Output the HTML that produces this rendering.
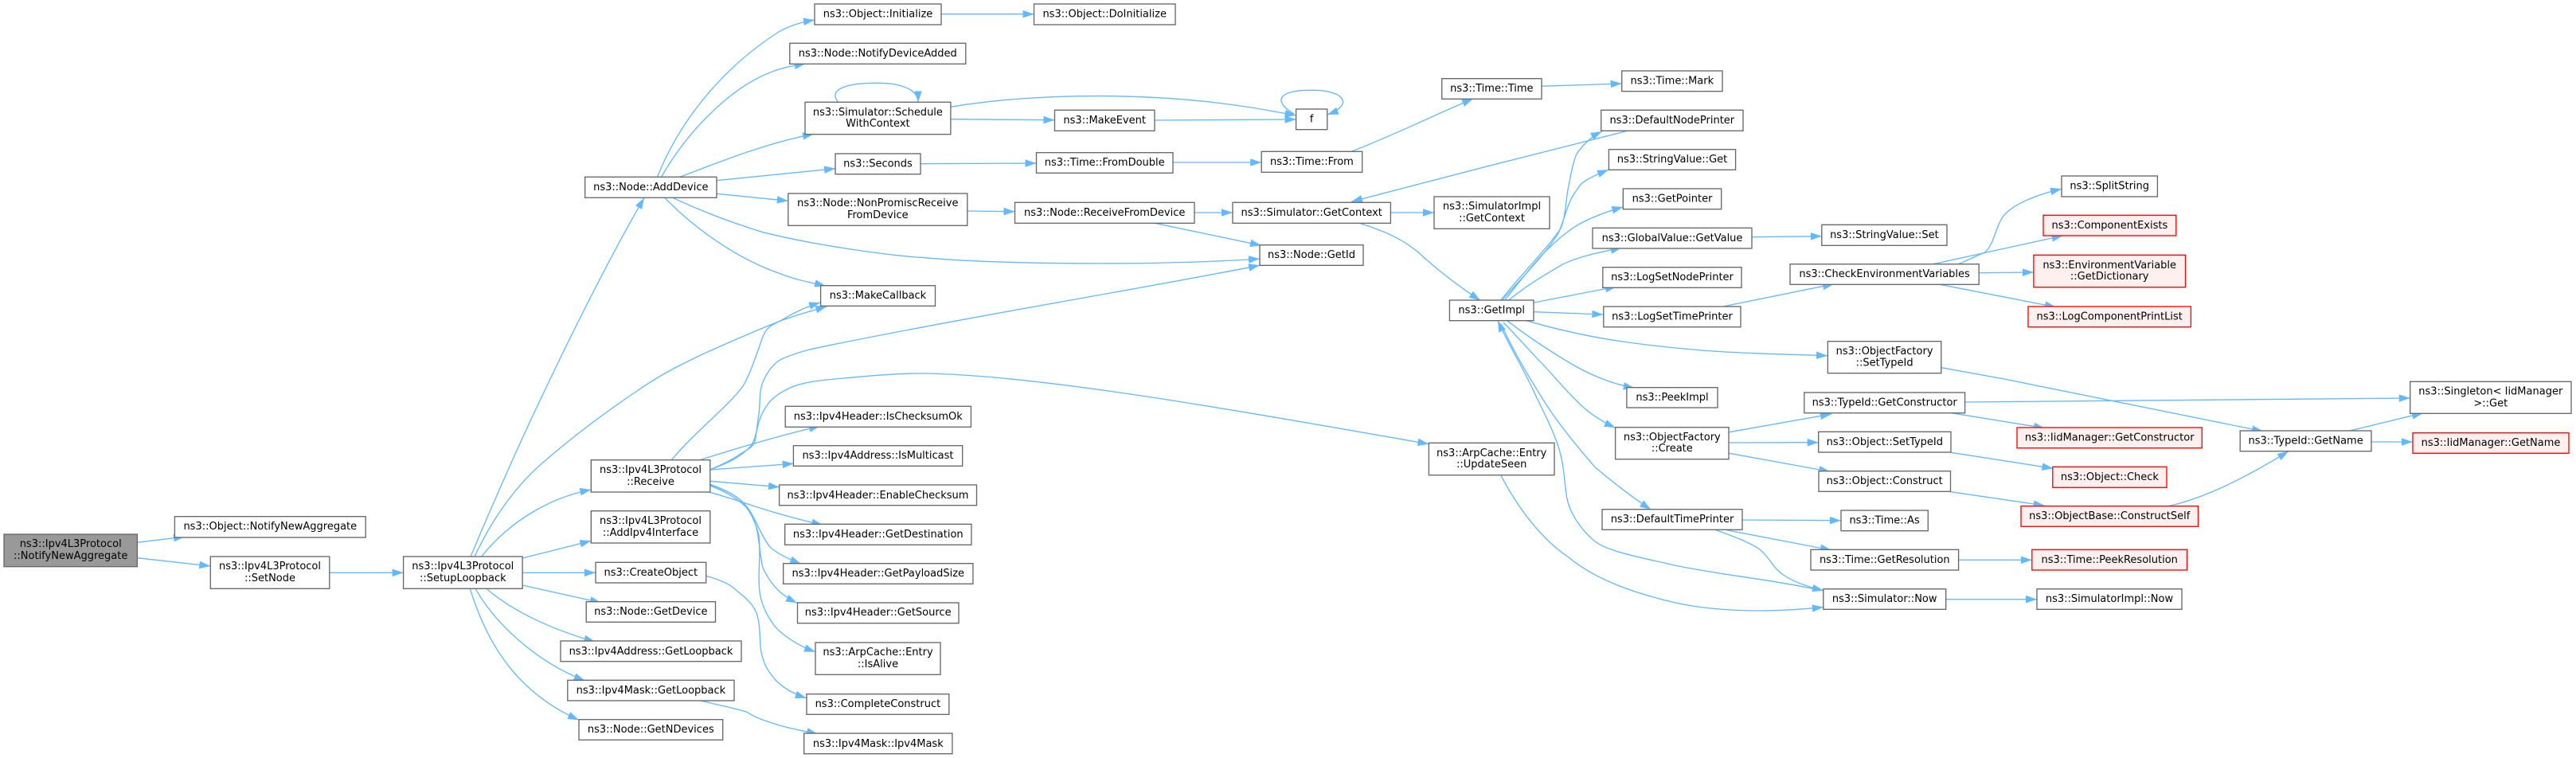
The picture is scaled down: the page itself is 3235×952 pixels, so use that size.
<!DOCTYPE html>
<html><head><meta charset="utf-8"><style>
html,body{margin:0;padding:0;background:#fff}
svg{display:block}
rect{fill:#fff;stroke:#666;stroke-width:1.33}
rect.s{fill:#999}
rect.r{fill:#fff0f0;stroke:#f00}
text{font-family:"DejaVu Sans","Liberation Sans",sans-serif;font-size:13px;text-anchor:middle;fill:#000}
path{fill:none;stroke:#63b8ff;stroke-width:1.33;marker-end:url(#a)}
</style></head><body>
<svg xmlns="http://www.w3.org/2000/svg" width="3235" height="952" viewBox="0 0 3235 952">
<defs><marker id="a" markerUnits="userSpaceOnUse" markerWidth="16" markerHeight="12" refX="14" refY="5" orient="auto"><polygon points="0,0.2 14,5 0,9.8" fill="#63b8ff"/></marker></defs>
<rect width="3235" height="952" style="fill:#fff;stroke:none"/>
<!-- edges -->
<path d="M172.4,681.3L232,674"/>
<path d="M172.4,700.7L264.3,711"/>
<path d="M413.8,719.3L506.6,719.3"/>
<path d="M591,699C620,630 655,550 691,476C720,415 770,315 809,248.5"/>
<path d="M596,699C620,648 650,608 684,579C720,548 760,518 800,491C830,470 855,458 880,446C915,430 950,415 980,403C1000,396 1020,390 1038.3,385"/>
<path d="M604.6,699C640,655 690,625 742.3,615"/>
<path d="M656.1,701L742.3,679.3"/>
<path d="M656.1,719.3L748,719.3"/>
<path d="M656,735L755,757"/>
<path d="M611,739.3C640,765 690,790 747.4,806"/>
<path d="M597,739.3C620,780 670,830 734.7,855"/>
<path d="M590.3,739.3C612,810 650,870 727,904.3"/>
<path d="M825.5,222.3C850,160 900,90 978,40C990,33 1005,28 1023,25"/>
<path d="M830.6,222.3C860,170 915,110 970,90C985,84 1000,82 1011.7,80"/>
<path d="M853.6,222.3C900,205 960,180 1022,168.3"/>
<path d="M900,226.7L1049,211.7"/>
<path d="M900,243.3L989.8,252.3"/>
<path d="M844.9,248.3C880,265 920,280 958,291.7C1040,312 1140,323 1157,323.3C1250,332 1450,334 1582,325"/>
<path d="M834.7,248.3C870,285 925,325 978.6,343.3C1000,352 1020,355 1037,359.3"/>
<path d="M1052.6,128.3C1038,110 1070,104 1101,104.3C1130,104 1153,112 1153,128.3"/>
<path d="M1193.9,134.3C1290,118 1450,112 1600,140L1627.6,145"/>
<path d="M1193.9,149.7L1324.5,150.7"/>
<path d="M1450,151L1627.6,150"/>
<path d="M1625,143C1595,125 1610,113 1646,113.3C1690,113 1700,132 1666.8,144"/>
<path d="M1182,17.7L1298.5,17.7"/>
<path d="M1156,205.7L1301.5,205"/>
<path d="M1473,204L1584.2,204"/>
<path d="M1697,190.3C1750,170 1800,145 1850,124"/>
<path d="M1936,108.3L2036.7,105"/>
<path d="M1214.8,265L1274.5,265.7"/>
<path d="M1500,267L1548,267"/>
<path d="M1450.5,280.3L1584,308.3"/>
<path d="M2045,164L1870,208.3L1697,253.3"/>
<path d="M1746.4,267L1801,267"/>
<path d="M1707,280.3C1745,292 1770,305 1790,325C1815,347 1840,365 1859,377.3"/>
<path d="M1885,376.7C1910,345 1945,310 1960,286.7C1967,270 1966,250 1970,233.3C1973,218 1975,205 1980,193.3C1987,183 1998,172 2011.7,165"/>
<path d="M1886.7,376.7C1910,350 1940,320 1956.7,293.3C1963,280 1967,262 1973,250C1977,243 1982,235 1986.7,230C1995,224 2008,218 2020,213.3"/>
<path d="M1890,376.7C1905,358 1920,338 1936.7,320C1950,306 1965,293 1980,283.3C2000,272 2020,265 2038.3,260"/>
<path d="M1895,376.7C1918,358 1940,345 1963,331.7C1988,320 2015,316 2036.7,311"/>
<path d="M1926.7,380L2030,360"/>
<path d="M1926.7,391.7L2013.3,395"/>
<path d="M1916.7,402.7C1945,411 1975,418 2003,423.3C2045,431 2090,436 2136.7,440C2190,444 2240,445 2295,446.7"/>
<path d="M1892.7,402.7C1915,420 1945,440 1970,455C1983,463 2000,471 2010,475C2025,481 2040,485 2052.7,487.3"/>
<path d="M1888,405C1905,422 1920,440 1936.7,456.7C1953,474 1970,495 1986.7,510C2000,522 2015,531 2028.7,537.3"/>
<path d="M1885,406.7C1900,440 1918,470 1936.7,500C1955,530 1980,560 2003,586.7C2025,605 2050,625 2073.3,640"/>
<path d="M2289.8,742C2220,727 2160,722 2103,710C2060,700 2020,693 2003,680C1985,665 1972,645 1968,626.7C1964,605 1965,585 1956.7,560C1950,540 1940,520 1930,500C1915,465 1895,435 1881,402.7"/>
<path d="M2155,665.7C2175,673 2195,680 2210,690C2222,700 2226,712 2236.7,720C2250,730 2270,737 2290,741.7"/>
<path d="M2188,653L2312,653.7"/>
<path d="M2168.3,665.7L2300,691"/>
<path d="M2459.6,703.3L2551.8,703.3"/>
<path d="M2443.7,752.7L2558,752.7"/>
<path d="M1885,597.3C1910,645 1940,680 1970,700C2000,725 2040,740 2076.7,750C2110,760 2150,767 2212,767C2240,767 2265,765 2289.8,762.7"/>
<path d="M891.7,590C912,582 930,575 943,560C948,553 950,542 953,530C956,520 960,512 968,503C975,496 985,490 997,485C1015,479 1035,477 1060,475C1090,472 1125,469 1157,469C1300,470 1550,515 1794.4,557.7"/>
<path d="M891.7,590C910,582 920,577 930,570C942,563 947,560 948.3,553C951,540 951,530 953,520C955,505 953,492 958,480C963,468 970,458 980,451.7C1005,440 1030,436 1060,430C1250,392 1420,365 1582,333.3"/>
<path d="M843,578C875,540 915,510 933,485C942,470 950,445 958,423C963,410 970,408 980,403C995,394 1010,386 1030,380"/>
<path d="M879,577.7C925,563 980,547 1030,535"/>
<path d="M891.7,590L996.7,582.3"/>
<path d="M891.7,604.3L979,611.7"/>
<path d="M891.7,618.3C905,622 920,627 930,630C965,642 1000,652 1033.3,659.3"/>
<path d="M891.7,608.3C905,613 920,620 930,628C940,637 945,647 950,656.7C955,668 960,678 966.7,686.7C975,695 990,702 1006,708.3"/>
<path d="M891.7,609C905,613 920,620 930,628C942,640 947,652 950,663C954,680 954,697 958,713C962,722 967,730 973,736.7C980,745 990,752 1001,757.3"/>
<path d="M891.7,610C910,617 925,625 936.7,636.7C945,647 950,660 953,673C956,695 951,720 954,743C956,760 965,776 973,786.7C985,800 1005,812 1024,818.7"/>
<path d="M886.7,723.3C900,727 915,732 923,740C935,750 945,757 950,770C957,790 952,810 958,826.7C961,838 967,846 973,853C983,864 998,872 1012.7,876.7"/>
<path d="M880,880C900,885 925,890 937.8,894.3C950,902 960,905 973.5,909.3C990,915 1010,918 1027,922"/>
<path d="M2200,297.7L2287.8,296.7"/>
<path d="M2163.8,385L2303,356.7"/>
<path d="M2459.6,331.7C2475,325 2485,320 2493,316.7C2505,305 2505,288 2514.5,273.3C2525,258 2555,245 2589,237.3"/>
<path d="M2427.7,331.7L2590.6,296"/>
<path d="M2485.2,342.7L2553.9,342"/>
<path d="M2436.2,357.3L2582,385.7"/>
<path d="M2437.8,461.7L2517,476L2842,541.7"/>
<path d="M2171.7,542.7L2300,520"/>
<path d="M2171,556L2283.7,555.7"/>
<path d="M2171.7,569.3L2298.3,592.3"/>
<path d="M2467.6,505L3026.7,500"/>
<path d="M2448,518.3L2568,537.7"/>
<path d="M2450,568.3L2578.4,588.3"/>
<path d="M2449.5,617.7L2567.7,635"/>
<path d="M2723.2,635.7C2770,625 2820,600 2874,566.7"/>
<path d="M2951,541L3043,518.7"/>
<path d="M2978,555L3030,555"/>
<!-- nodes -->
<rect class="s" x="5" y="671" width="167.4" height="40.7"/><text x="88.7" y="687">ns3::Ipv4L3Protocol</text><text x="88.7" y="702">::NotifyNewAggregate</text>
<rect x="219.4" y="648.7" width="239.8" height="26.3"/><text x="339.3" y="665">ns3::Object::NotifyNewAggregate</text>
<rect x="264.3" y="699" width="149.5" height="40.3"/><text x="339" y="715">ns3::Ipv4L3Protocol</text><text x="339" y="730">::SetNode</text>
<rect x="506.6" y="699" width="149.5" height="40.3"/><text x="581.3" y="715">ns3::Ipv4L3Protocol</text><text x="581.3" y="730">::SetupLoopback</text>
<rect x="734.7" y="222.3" width="165.3" height="26"/><text x="817.3" y="239">ns3::Node::AddDevice</text>
<rect x="742.3" y="577.7" width="149.5" height="40.3"/><text x="817" y="594">ns3::Ipv4L3Protocol</text><text x="817" y="609">::Receive</text>
<rect x="742.3" y="641.7" width="149.5" height="40.3"/><text x="817" y="658">ns3::Ipv4L3Protocol</text><text x="817" y="673">::AddIpv4Interface</text>
<rect x="748" y="706.3" width="138.7" height="25.7"/><text x="817.3" y="723">ns3::CreateObject</text>
<rect x="736.2" y="755.7" width="162.3" height="25.6"/><text x="817.3" y="772">ns3::Node::GetDevice</text>
<rect x="704" y="805" width="227" height="25.7"/><text x="817.5" y="822">ns3::Ipv4Address::GetLoopback</text>
<rect x="712.8" y="854.3" width="209.2" height="25.7"/><text x="817.4" y="871">ns3::Ipv4Mask::GetLoopback</text>
<rect x="727" y="903.7" width="180.7" height="25.6"/><text x="817.3" y="920">ns3::Node::GetNDevices</text>
<rect x="986.2" y="510.3" width="233.2" height="26"/><text x="1102.8" y="527">ns3::Ipv4Header::IsChecksumOk</text>
<rect x="996.4" y="559.7" width="212.3" height="25.6"/><text x="1102.5" y="576">ns3::Ipv4Address::IsMulticast</text>
<rect x="978.6" y="609" width="247.9" height="25.7"/><text x="1102.5" y="626">ns3::Ipv4Header::EnableChecksum</text>
<rect x="985.7" y="658.3" width="234.2" height="26"/><text x="1102.8" y="675">ns3::Ipv4Header::GetDestination</text>
<rect x="983.7" y="707.7" width="238.2" height="25.6"/><text x="1102.8" y="724">ns3::Ipv4Header::GetPayloadSize</text>
<rect x="1001.5" y="757" width="202.5" height="25.7"/><text x="1102.7" y="773">ns3::Ipv4Header::GetSource</text>
<rect x="1024" y="807" width="157" height="40.3"/><text x="1102.5" y="823">ns3::ArpCache::Entry</text><text x="1102.5" y="838">::IsAlive</text>
<rect x="1013" y="871.7" width="178.8" height="25.6"/><text x="1102.4" y="888">ns3::CompleteConstruct</text>
<rect x="1009.7" y="921" width="186.2" height="25.7"/><text x="1102.8" y="938">ns3::Ipv4Mask::Ipv4Mask</text>
<rect x="1023" y="5" width="159" height="26"/><text x="1102.5" y="21.5">ns3::Object::Initialize</text>
<rect x="1298.5" y="5" width="177.5" height="26"/><text x="1387.2" y="21.5">ns3::Object::DoInitialize</text>
<rect x="991.8" y="54.3" width="221" height="26"/><text x="1102.3" y="71">ns3::Node::NotifyDeviceAdded</text>
<rect x="1011" y="128.3" width="182.9" height="40.4"/><text x="1102.4" y="145">ns3::Simulator::Schedule</text><text x="1102.4" y="159">WithContext</text>
<rect x="1324.5" y="138.3" width="125.5" height="26"/><text x="1387.2" y="155">ns3::MakeEvent</text>
<rect x="1049" y="193" width="107" height="25.7"/><text x="1102.5" y="209.5">ns3::Seconds</text>
<rect x="1301.5" y="191.7" width="171.5" height="25.6"/><text x="1387.2" y="208">ns3::Time::FromDouble</text>
<rect x="1584.2" y="190.3" width="126.5" height="26"/><text x="1647.4" y="207">ns3::Time::From</text>
<rect x="989.8" y="243" width="225" height="40.3"/><text x="1102.3" y="259">ns3::Node::NonPromiscReceive</text><text x="1102.3" y="274">FromDevice</text>
<rect x="1274.5" y="254.3" width="225.5" height="26"/><text x="1387.2" y="271">ns3::Node::ReceiveFromDevice</text>
<rect x="1548" y="254.3" width="198.4" height="26"/><text x="1647.2" y="271">ns3::Simulator::GetContext</text>
<rect x="1582" y="307.7" width="130" height="25.6"/><text x="1647" y="324">ns3::Node::GetId</text>
<rect x="1030.6" y="358.7" width="143.9" height="25.6"/><text x="1102.5" y="375">ns3::MakeCallback</text>
<rect x="1627.6" y="137" width="39.2" height="25.7"/><text x="1647.2" y="153.5">f</text>
<rect x="1810.7" y="98.7" width="125.3" height="25.6"/><text x="1873.3" y="115">ns3::Time::Time</text>
<rect x="2036.7" y="89" width="126.3" height="25.7"/><text x="2099.8" y="105.5">ns3::Time::Mark</text>
<rect x="2010.7" y="138.3" width="178.3" height="26"/><text x="2099.8" y="155">ns3::DefaultNodePrinter</text>
<rect x="2020.4" y="187.7" width="159.2" height="25.6"/><text x="2100" y="204">ns3::StringValue::Get</text>
<rect x="2038.3" y="237" width="123.4" height="25.7"/><text x="2100" y="253.5">ns3::GetPointer</text>
<rect x="2000" y="286.3" width="200" height="25.7"/><text x="2100" y="303">ns3::GlobalValue::GetValue</text>
<rect x="2287.8" y="282.3" width="157.2" height="26"/><text x="2366.4" y="299">ns3::StringValue::Set</text>
<rect x="2012.8" y="335.7" width="174.2" height="25.6"/><text x="2100" y="352">ns3::LogSetNodePrinter</text>
<rect x="2013.8" y="385" width="172.2" height="25.7"/><text x="2100" y="401.5">ns3::LogSetTimePrinter</text>
<rect x="2248" y="331.7" width="237.2" height="25.6"/><text x="2366.6" y="348">ns3::CheckEnvironmentVariables</text>
<rect x="1801" y="247" width="145" height="40.3"/><text x="1873.5" y="263">ns3::SimulatorImpl</text><text x="1873.5" y="278">::GetContext</text>
<rect x="1820.4" y="377" width="105.6" height="25.7"/><text x="1873.2" y="393.5">ns3::GetImpl</text>
<rect x="2295.4" y="428.7" width="142.4" height="40"/><text x="2366.6" y="445">ns3::ObjectFactory</text><text x="2366.6" y="459.5">::SetTypeId</text>
<rect x="2042.9" y="486.7" width="114.1" height="25.3"/><text x="2100" y="503">ns3::PeekImpl</text>
<rect x="2028.6" y="536.7" width="142.4" height="40"/><text x="2099.8" y="553">ns3::ObjectFactory</text><text x="2099.8" y="567">::Create</text>
<rect x="1794.4" y="556.3" width="157.6" height="40.4"/><text x="1873.2" y="573">ns3::ArpCache::Entry</text><text x="1873.2" y="587">::UpdateSeen</text>
<rect x="2012" y="639.7" width="176" height="25.6"/><text x="2100" y="656">ns3::DefaultTimePrinter</text>
<rect x="2265.8" y="493" width="201.8" height="25.7"/><text x="2366.7" y="509.5">ns3::TypeId::GetConstructor</text>
<rect x="2283.7" y="542.3" width="166.3" height="25.7"/><text x="2366.8" y="559">ns3::Object::SetTypeId</text>
<rect x="2284" y="591.7" width="165.5" height="25.6"/><text x="2366.7" y="608">ns3::Object::Construct</text>
<rect x="2312" y="641" width="109.3" height="25.7"/><text x="2366.6" y="657.5">ns3::Time::As</text>
<rect x="2274" y="690.3" width="185.6" height="25.7"/><text x="2366.8" y="707">ns3::Time::GetResolution</text>
<rect x="2289.8" y="739.7" width="153.9" height="25.6"/><text x="2366.7" y="756">ns3::Simulator::Now</text>
<rect x="2589" y="221" width="120.4" height="26"/><text x="2649.2" y="237.5">ns3::SplitString</text>
<rect class="r" x="2566" y="270.3" width="166.8" height="25.7"/><text x="2649.4" y="287">ns3::ComponentExists</text>
<rect class="r" x="2553.9" y="320.3" width="190.6" height="40.4"/><text x="2649.2" y="337">ns3::EnvironmentVariable</text><text x="2649.2" y="351">::GetDictionary</text>
<rect class="r" x="2547" y="385" width="204.4" height="25.7"/><text x="2649.2" y="401.5">ns3::LogComponentPrintList</text>
<rect class="r" x="2533" y="537" width="232.3" height="25.7"/><text x="2649.2" y="553.5">ns3::IidManager::GetConstructor</text>
<rect class="r" x="2577.8" y="586.3" width="143.2" height="26"/><text x="2649.4" y="603">ns3::Object::Check</text>
<rect class="r" x="2538" y="635.7" width="222.5" height="25.6"/><text x="2649.2" y="652">ns3::ObjectBase::ConstructSelf</text>
<rect class="r" x="2551.8" y="690.3" width="194.8" height="25.7"/><text x="2649.2" y="707">ns3::Time::PeekResolution</text>
<rect x="2558" y="739.7" width="182" height="25.6"/><text x="2649" y="756">ns3::SimulatorImpl::Now</text>
<rect x="2813.2" y="541" width="164.8" height="25.7"/><text x="2895.6" y="557.5">ns3::TypeId::GetName</text>
<rect x="3026.7" y="479.3" width="202.3" height="40"/><text x="3127.8" y="495.5">ns3::Singleton&lt; IidManager</text><text x="3127.8" y="510.5">&gt;::Get</text>
<rect class="r" x="3030" y="543.7" width="196" height="25.6"/><text x="3128" y="560">ns3::IidManager::GetName</text>
</svg>
</body></html>
